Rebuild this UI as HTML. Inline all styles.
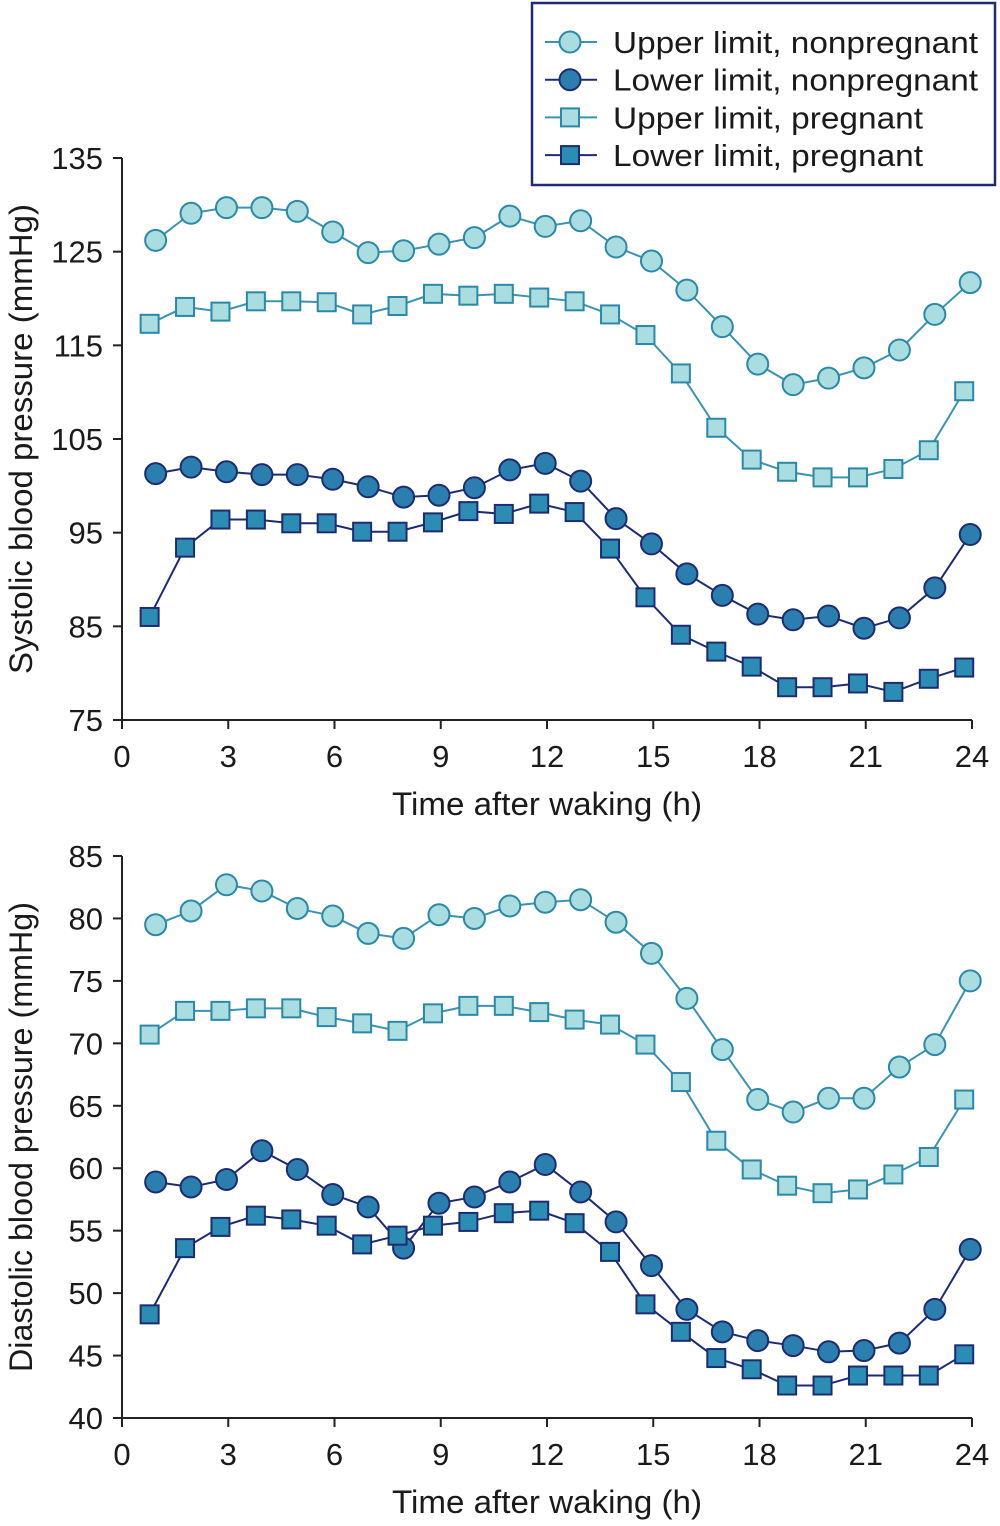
<!DOCTYPE html>
<html><head><meta charset="utf-8">
<style>
html,body{margin:0;padding:0;background:#fff;}
svg text{font-family:"Liberation Sans",Arial,sans-serif;fill:#1a1a1a;}
</style></head>
<body>
<svg id="chart" width="1000" height="1521" viewBox="0 0 1000 1521" xmlns="http://www.w3.org/2000/svg">
<g id="top"></g>
<g id="bot"></g>
<g id="legend"></g>
</svg>
<script>
const hoursCircle=[1,2,3,4,5,6,7,8,9,10,11,12,13,14,15,16,17,18,19,20,21,22,23,24].map(h=>h-0.05);
const hoursSquare=[1,2,3,4,5,6,7,8,9,10,11,12,13,14,15,16,17,18,19,20,21,22,23,24].map(h=>h-0.22);
const xTicks=[0,3,6,9,12,15,18,21,24];
const sysTicks=[75,85,95,105,115,125,135];
const diaTicks=[40,45,50,55,60,65,70,75,80,85];
const sysUpperNon=[126.2,129.1,129.7,129.7,129.3,127.1,124.9,125.1,125.8,126.5,128.8,127.7,128.3,125.5,124.0,120.9,117.0,113.0,110.8,111.5,112.6,114.5,118.3,121.7];
const sysUpperPreg=[117.3,119.1,118.6,119.7,119.7,119.6,118.3,119.2,120.5,120.3,120.5,120.1,119.7,118.3,116.1,112.0,106.2,102.8,101.5,100.9,100.9,101.8,103.8,110.1];
const sysLowerNon=[101.3,102.0,101.5,101.2,101.2,100.7,99.9,98.8,99.0,99.8,101.7,102.4,100.5,96.5,93.8,90.6,88.3,86.3,85.7,86.1,84.8,85.9,89.1,94.8];
const sysLowerPreg=[86.0,93.4,96.4,96.4,96.0,96.0,95.1,95.1,96.1,97.3,97.0,98.1,97.2,93.3,88.1,84.1,82.3,80.7,78.5,78.5,78.9,78.0,79.4,80.6];
const diaUpperNon=[79.5,80.6,82.7,82.2,80.8,80.2,78.8,78.4,80.3,80.0,81.0,81.3,81.5,79.7,77.2,73.6,69.5,65.5,64.5,65.6,65.6,68.1,69.9,75.0];
const diaUpperPreg=[70.7,72.6,72.6,72.8,72.8,72.1,71.6,71.0,72.4,73.0,73.0,72.5,71.9,71.5,69.9,66.9,62.2,59.9,58.6,58.0,58.3,59.5,60.9,65.5];
const diaLowerNon=[58.9,58.5,59.1,61.4,59.9,57.9,56.9,53.6,57.2,57.7,58.9,60.3,58.1,55.7,52.2,48.7,46.9,46.2,45.8,45.3,45.4,46.0,48.7,53.5];
const diaLowerPreg=[48.3,53.6,55.3,56.2,55.9,55.4,53.9,54.6,55.4,55.7,56.4,56.6,55.6,53.3,49.1,46.9,44.8,43.9,42.6,42.6,43.4,43.4,43.4,45.1];
const seriesNames=["Upper limit, nonpregnant","Lower limit, nonpregnant","Upper limit, pregnant","Lower limit, pregnant"];
const legendWidths=[365,365,310,310];

const NS="http://www.w3.org/2000/svg";
const STY={
 un:{line:"#3a93b3",fill:"#a9dde0",stroke:"#2a88a8",shape:"c"},
 ln:{line:"#1d2c72",fill:"#2a7fae",stroke:"#1d2c72",shape:"c"},
 up:{line:"#3a93b3",fill:"#a9dde0",stroke:"#2a88a8",shape:"s"},
 lp:{line:"#1d2c72",fill:"#2b8db3",stroke:"#1d2c72",shape:"s"}
};
function mk(parent,tag,attrs){const e=document.createElementNS(NS,tag);for(const k in attrs)e.setAttribute(k,attrs[k]);parent.appendChild(e);return e;}
function marker(g,shape,x,y,s){
 let m;
 if(shape==="c") m=mk(g,"circle",{cx:x,cy:y,r:10.5,fill:s.fill,stroke:s.stroke,"stroke-width":2});
 else m=mk(g,"rect",{x:x-9,y:y-9,width:18,height:18,fill:s.fill,stroke:s.stroke,"stroke-width":2});
 return m;
}
function chart(g,top,bottom,ymin,ymax,yticks,title,series){
 const X0=122,X1=972;
 const xs=h=>X0+h/24*(X1-X0);
 const ys=v=>bottom-(v-ymin)/(ymax-ymin)*(bottom-top);
 const ax=mk(g,"g",{});
 
 
 mk(ax,"line",{x1:X0,y1:top,x2:X0,y2:bottom,stroke:"#222","stroke-width":2});
 mk(ax,"line",{x1:X0,y1:bottom,x2:X1,y2:bottom,stroke:"#222","stroke-width":2});
 yticks.forEach(t=>{
  mk(ax,"line",{x1:X0-9,y1:ys(t),x2:X0,y2:ys(t),stroke:"#222","stroke-width":2});
  const tx=mk(ax,"text",{x:X0-19,y:ys(t)+11,"text-anchor":"end","font-size":31});
  tx.textContent=t;
  
  
 });
 xTicks.forEach(t=>{
  mk(ax,"line",{x1:xs(t),y1:bottom,x2:xs(t),y2:bottom+9,stroke:"#222","stroke-width":2});
  const tx=mk(ax,"text",{x:xs(t),y:bottom+47,"text-anchor":"middle","font-size":31});
  tx.textContent=t;
  
  
 });
 const xt=mk(g,"text",{x:547,y:bottom+95,"text-anchor":"middle","font-size":32,textLength:310,lengthAdjust:"spacingAndGlyphs"});
 xt.textContent="Time after waking (h)";
 
 
 const cy=(top+bottom)/2;
 const yt=mk(g,"text",{x:0,y:0,"text-anchor":"middle","font-size":32,textLength:470,lengthAdjust:"spacingAndGlyphs",transform:`translate(32,${cy}) rotate(-90)`});
 yt.textContent=title;
 
 
 series.forEach(([key,vals,name])=>{
  const s=STY[key];
  const hrs=s.shape==="c"?hoursCircle:hoursSquare;
  const sg=mk(g,"g",{});
  
  
  const pts=vals.map((v,i)=>xs(hrs[i])+","+ys(v)).join(" ");
  mk(sg,"polyline",{points:pts,fill:"none",stroke:s.line,"stroke-width":2});
  vals.forEach((v,i)=>{
   const m=marker(sg,s.shape,xs(hrs[i]),ys(v),s);
   
   
  });
 });
}
chart(document.getElementById("top"),158,720,75,135,sysTicks,"Systolic blood pressure (mmHg)",
 [["un",sysUpperNon,"series-upper-nonpregnant"],["up",sysUpperPreg,"series-upper-pregnant"],["ln",sysLowerNon,"series-lower-nonpregnant"],["lp",sysLowerPreg,"series-lower-pregnant"]]);
chart(document.getElementById("bot"),856,1418,40,85,diaTicks,"Diastolic blood pressure (mmHg)",
 [["un",diaUpperNon,"series-upper-nonpregnant"],["up",diaUpperPreg,"series-upper-pregnant"],["ln",diaLowerNon,"series-lower-nonpregnant"],["lp",diaLowerPreg,"series-lower-pregnant"]]);

const lg=document.getElementById("legend");
mk(lg,"rect",{x:532,y:3,width:463,height:182,fill:"#fff",stroke:"#1d2c72","stroke-width":2.5});
["un","ln","up","lp"].forEach((k,i)=>{
 const y=42+i*37.7, s=STY[k];
 const eg=mk(lg,"g",{});
 
 
 mk(eg,"line",{x1:545,y1:y,x2:597,y2:y,stroke:s.line,"stroke-width":2});
 marker(eg,s.shape,570,y,s);
 const t=mk(eg,"text",{x:613,y:y+11,"font-size":31,textLength:legendWidths[i],lengthAdjust:"spacingAndGlyphs"});
 t.textContent=seriesNames[i];
});
</script>
</body></html>
